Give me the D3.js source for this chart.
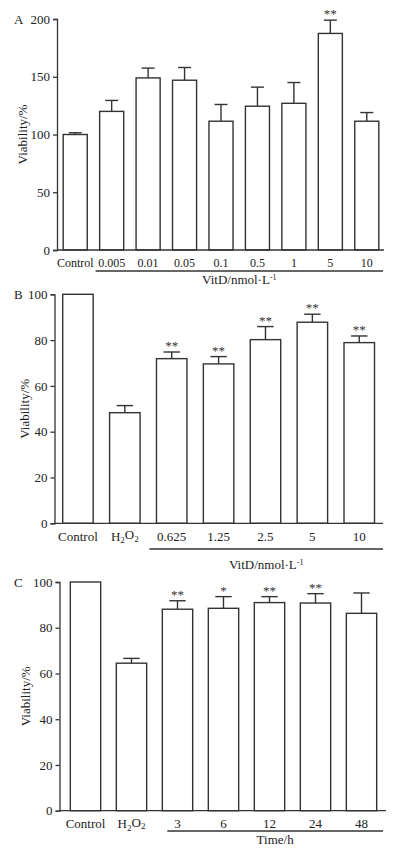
<!DOCTYPE html>
<html>
<head>
<meta charset="utf-8">
<script src="https://cdn.jsdelivr.net/npm/d3@7"></script>
<style>
  body { margin: 0; background: #fff; }
  svg { display: block; font-family: "Liberation Serif", "DejaVu Serif", serif; }
  .axis path, .axis line { stroke: #333; stroke-width: 1.3; }
  .axis text { fill: #222; font-family: "Liberation Serif", "DejaVu Serif", serif; }
</style>
</head>
<body>
<svg id="chart" width="396" height="848"></svg>
<script>
// panel A: viability vs VitD dose
var catsA = ["Control", "0.005", "0.01", "0.05", "0.1", "0.5", "1", "5", "10"];
var meanA = [100, 120, 149, 147, 111.5, 124.5, 127, 187.5, 111.5];
var errA  = [1.5, 9.5, 8.5, 11, 14.5, 16.5, 18, 11.5, 7.5];
var sigA  = ["", "", "", "", "", "", "", "**", ""];
var ticksA = [0, 50, 100, 150, 200];

// panel B: H2O2 injury + VitD dose
var catsB = ["Control", "H2O2", "0.625", "1.25", "2.5", "5", "10"];
var meanB = [100, 48.3, 71.9, 69.6, 80.2, 87.8, 78.9];
var errB  = [0, 3.1, 2.9, 3.2, 5.7, 3.5, 2.9];
var sigB  = ["", "", "**", "**", "**", "**", "**"];
var ticksB = [0, 20, 40, 60, 80, 100];

// panel C: H2O2 injury + VitD time course
var catsC = ["Control", "H2O2", "3", "6", "12", "24", "48"];
var meanC = [100, 64.5, 88.1, 88.5, 91, 90.8, 86.3];
var errC  = [0, 2.1, 3.7, 5.1, 2.6, 4.1, 8.9];
var sigC  = ["", "", "**", "*", "**", "**", ""];
var ticksC = [0, 20, 40, 60, 80, 100];

var svg = d3.select("#chart");

function panel(opt){
    var g = svg.append("g");

    var x = d3.scaleBand()
        .domain(opt.cats)
        .range([opt.x0, opt.x1])
        .paddingInner(opt.pad)
        .paddingOuter(opt.pad / 2);
    var y = d3.scaleLinear()
        .domain([0, opt.ymax])
        .range([opt.yBottom, opt.yTop]);

    var rows = opt.cats.map(function(c, i){
        return {cat: c, mean: opt.mean[i], err: opt.err[i], sig: opt.sig[i]};
    });

    //bars
    g.selectAll(".bar")
        .data(rows)
        .enter()
        .append("rect")
        .attr("class", "bar")
        .attr("x", function(d){ return x(d.cat); })
        .attr("y", function(d){ return y(d.mean); })
        .attr("width", x.bandwidth())
        .attr("height", function(d){ return opt.yBottom - y(d.mean); })
        .attr("fill", "#fff")
        .attr("stroke", "#333")
        .attr("stroke-width", 1.4);

    //error bars
    var cap = x.bandwidth() * 0.27;
    var eb = g.selectAll(".err")
        .data(rows.filter(function(d){ return d.err > 0; }))
        .enter()
        .append("g")
        .attr("class", "err")
        .attr("stroke", "#333")
        .attr("stroke-width", 1.4);
    eb.append("line")
        .attr("x1", function(d){ return x(d.cat) + x.bandwidth() / 2; })
        .attr("x2", function(d){ return x(d.cat) + x.bandwidth() / 2; })
        .attr("y1", function(d){ return y(d.mean); })
        .attr("y2", function(d){ return y(d.mean + d.err); });
    eb.append("line")
        .attr("x1", function(d){ return x(d.cat) + x.bandwidth() / 2 - cap; })
        .attr("x2", function(d){ return x(d.cat) + x.bandwidth() / 2 + cap; })
        .attr("y1", function(d){ return y(d.mean + d.err); })
        .attr("y2", function(d){ return y(d.mean + d.err); });

    //significance stars
    g.selectAll(".sig")
        .data(rows.filter(function(d){ return d.sig; }))
        .enter()
        .append("text")
        .attr("class", "sig")
        .attr("x", function(d){ return x(d.cat) + x.bandwidth() / 2; })
        .attr("y", function(d){ return y(d.mean + d.err) - 2; })
        .attr("text-anchor", "middle")
        .style("font-size", "13px")
        .attr("fill", "#333")
        .text(function(d){ return d.sig; });

    //y axis
    var yAxis = g.append("g")
        .attr("class", "axis")
        .attr("transform", "translate(" + opt.axisX + ",0)")
        .call(d3.axisLeft(y).tickValues(opt.ticks).tickSize(4).tickPadding(3).tickSizeOuter(4))
        .attr("font-family", null);
    yAxis.selectAll("text").style("font-size", "13px");

    //x axis baseline, category labels without ticks
    var xAxis = g.append("g")
        .attr("class", "axis")
        .attr("transform", "translate(0," + opt.yBottom + ")")
        .call(d3.axisBottom(x).tickSize(0).tickPadding(opt.labPad))
        .attr("font-family", null);
    xAxis.select(".domain").attr("d", "M" + opt.axisX + ",0H" + opt.axisEnd);
    xAxis.selectAll("text")
        .style("font-size", opt.labSize + "px")
        .each(function(d){
            if (d === "H2O2") {
                var t = d3.select(this).text(null);
                t.append("tspan").text("H");
                t.append("tspan").attr("dy", "0.3em").style("font-size", "9px").text("2");
                t.append("tspan").attr("dy", "-0.3em").text("O");
                t.append("tspan").attr("dy", "0.3em").style("font-size", "9px").text("2");
            }
        });

    //group underline and title
    var ux0 = x(opt.groupStart) + opt.underOff;
    g.append("line")
        .attr("x1", ux0).attr("x2", opt.underEnd)
        .attr("y1", opt.underY).attr("y2", opt.underY)
        .attr("stroke", "#333").attr("stroke-width", 1.3);
    var gt = g.append("text")
        .attr("x", (ux0 + opt.underEnd) / 2)
        .attr("y", opt.groupY)
        .attr("text-anchor", "middle")
        .style("font-size", "13px")
        .attr("fill", "#222");
    gt.append("tspan").text(opt.groupTitle);
    if (opt.sup) {
        gt.append("tspan").attr("dy", "-0.55em").style("font-size", "8px").text(opt.sup);
    }

    //y title
    g.append("text")
        .attr("transform", "translate(" + opt.titleX + "," + ((opt.yTop + opt.yBottom) / 2) + ")rotate(-90)")
        .attr("text-anchor", "middle")
        .style("font-size", "13px")
        .attr("fill", "#222")
        .text("Viability/%");

    //panel letter
    g.append("text")
        .attr("x", 14)
        .attr("y", opt.yTop + 5)
        .style("font-size", "13px")
        .attr("fill", "#222")
        .text(opt.letter);
}

panel({
    letter: "A", cats: catsA, mean: meanA, err: errA, sig: sigA, ticks: ticksA, ymax: 200,
    x0: 57, x1: 385, pad: 0.34, axisX: 57, axisEnd: 384,
    yTop: 19, yBottom: 250, labPad: 8, labSize: 12,
    groupStart: "0.005", underOff: -4, underEnd: 383, underY: 271,
    groupY: 284, groupTitle: "VitD/nmol\u00b7L", sup: "-1", titleX: 27
});

panel({
    letter: "B", cats: catsB, mean: meanB, err: errB, sig: sigB, ticks: ticksB, ymax: 100,
    x0: 54.5, x1: 382.7, pad: 0.35, axisX: 54.5, axisEnd: 383,
    yTop: 294.3, yBottom: 523.3, labPad: 8, labSize: 13,
    groupStart: "0.625", underOff: -7, underEnd: 383, underY: 549,
    groupY: 569, groupTitle: "VitD/nmol\u00b7L", sup: "-1", titleX: 29
});

panel({
    letter: "C", cats: catsC, mean: meanC, err: errC, sig: sigC, ticks: ticksC, ymax: 100,
    x0: 62.5, x1: 384.5, pad: 0.34, axisX: 59.5, axisEnd: 386,
    yTop: 582, yBottom: 810.7, labPad: 8, labSize: 13,
    groupStart: "3", underOff: 5, underEnd: 383, underY: 831,
    groupY: 844, groupTitle: "Time/h", sup: "", titleX: 30
});
</script>
</body>
</html>
